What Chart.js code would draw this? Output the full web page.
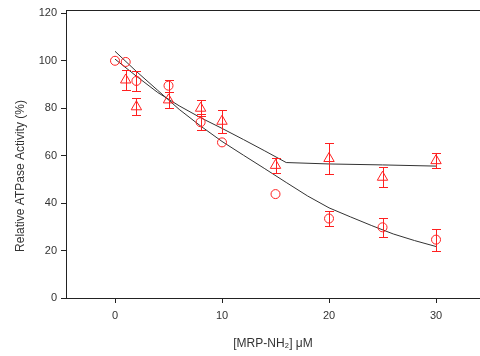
<!DOCTYPE html>
<html><head><meta charset="utf-8">
<script src="https://cdn.jsdelivr.net/npm/chart.js@4.4.0/dist/chart.umd.min.js"></script>
<style>html,body{margin:0;padding:0;background:#fff}#wrap{width:480px;height:356px}</style>
</head><body><div id="wrap"><canvas id="c" width="480" height="356"></canvas></div>
<script>
// Circle series (open circles)
const circleX = [0, 1, 2, 5, 8, 10, 15, 20, 25, 30];
const circleY = [100, 99.5, 91.5, 89.5, 74.1, 65.6, 43.8, 33.5, 29.8, 24.6];
const circleErr = [0, 0, 4.2, 2.5, 3.4, 0, 0, 3.2, 4, 4.6];
// Triangle series (open triangles)
const triX = [1, 2, 5, 8, 10, 15, 20, 25, 30];
const triY = [91.9, 80.6, 83.5, 80, 74.5, 55.9, 58.8, 50.9, 57.9];
const triErr = [4.2, 3.6, 3.5, 3.4, 4.9, 3, 6.6, 4.2, 3.3];
// Fitted curves
const circleFitX = [0, 2, 4, 6, 8, 10, 12, 14, 16, 18, 20, 22, 24, 26, 28, 30];
const circleFitY = [104, 95.5, 87.5, 79.5, 72.5, 66, 60.2, 54.5, 48.7, 43, 38, 34.2, 30.5, 27, 24.2, 21.7];
const triFitX = [0, 2, 4, 6, 8, 10, 12, 14, 16, 20, 25, 30];
const triFitY = [100.7, 93.5, 86.6, 81, 76, 71.5, 66.8, 62, 57.1, 56.5, 56.1, 55.6];
// Axis ticks
const xTicks = [0, 10, 20, 30];
const yTicks = [0, 20, 40, 60, 80, 100, 120];

const xyPairs = (xs, ys) => xs.map((x, i) => ({x: x, y: ys[i]}));
const FONT = 'Liberation Sans, Arial, sans-serif';
const RED = '#ff2020';
const AXIS = '#222';

const errorBars = {
  id: 'errorBars',
  afterDatasetsDraw(chart) {
    const ctx = chart.ctx, xs = chart.scales.x, ys = chart.scales.y;
    const sets = [[circleX, circleY, circleErr], [triX, triY, triErr]];
    ctx.save();
    ctx.strokeStyle = RED; ctx.lineWidth = 1;
    sets.forEach(([X, Y, E]) => {
      X.forEach((x, i) => {
        if (!E[i]) return;
        const px = Math.round(xs.getPixelForValue(x)) + 0.5;
        const top = Math.round(ys.getPixelForValue(Y[i] + E[i])) + 0.5;
        const bot = Math.round(ys.getPixelForValue(Y[i] - E[i])) + 0.5;
        ctx.beginPath();
        ctx.moveTo(px, top); ctx.lineTo(px, bot);
        ctx.moveTo(px - 4.5, top); ctx.lineTo(px + 4.5, top);
        ctx.moveTo(px - 4.5, bot); ctx.lineTo(px + 4.5, bot);
        ctx.stroke();
      });
    });
    ctx.restore();
  }
};

const frame = {
  id: 'frame',
  afterDraw(chart) {
    const ctx = chart.ctx, a = chart.chartArea;
    ctx.save();
    ctx.strokeStyle = AXIS; ctx.lineWidth = 1;
    ctx.beginPath();
    ctx.moveTo(a.left, Math.round(a.top) + 0.5);
    ctx.lineTo(a.right, Math.round(a.top) + 0.5);
    ctx.stroke();
    // y-axis title
    ctx.fillStyle = '#333';
    ctx.font = '12px ' + FONT;
    ctx.textAlign = 'center'; ctx.textBaseline = 'middle';
    ctx.translate(21, 176);
    ctx.rotate(-Math.PI / 2);
    ctx.fillText('Relative ATPase Activity (%)', 0, 0);
    ctx.restore();
  }
};

new Chart(document.getElementById('c'), {
  type: 'scatter',
  data: {
    datasets: [
      {type: 'line', data: xyPairs(circleFitX, circleFitY), borderColor: '#333', borderWidth: 1, pointRadius: 0, tension: 0, fill: false, order: 3},
      {type: 'line', data: xyPairs(triFitX, triFitY), borderColor: '#333', borderWidth: 1, pointRadius: 0, tension: 0, fill: false, order: 3},
      {data: xyPairs(circleX, circleY), pointStyle: 'circle', pointRadius: 4.5, borderColor: RED, backgroundColor: 'rgba(0,0,0,0)', borderWidth: 1, order: 1},
      {data: xyPairs(triX, triY), pointStyle: 'triangle', pointRadius: 6, borderColor: RED, backgroundColor: 'rgba(0,0,0,0)', borderWidth: 1, order: 1}
    ]
  },
  options: {
    responsive: false, animation: false, devicePixelRatio: 1,
    layout: {autoPadding: false, padding: {top: 10, right: 0, left: 0, bottom: 0}},
    plugins: {legend: {display: false}, tooltip: {enabled: false}},
    scales: {
      x: {
        type: 'linear', min: -4.58, max: 34.11,
        afterBuildTicks: s => { s.ticks = xTicks.map(v => ({value: v})); },
        afterFit: s => { s.height = 58; s.paddingLeft = 0; s.paddingRight = 0; },
        grid: {drawOnChartArea: false, drawTicks: true, tickLength: 5, color: AXIS},
        border: {color: AXIS, width: 1},
        ticks: {padding: 6, color: '#333', font: {family: FONT, size: 11}, maxRotation: 0},
        title: {display: true, text: '[MRP-NH\u2082] \u03bcM', color: '#333', font: {family: FONT, size: 12}, padding: {top: 0, bottom: 5}}
      },
      y: {
        type: 'linear', min: 0, max: 121.4,
        afterBuildTicks: s => { s.ticks = yTicks.map(v => ({value: v})); },
        afterFit: s => { s.width = 66; s.paddingTop = 0; s.paddingBottom = 0; },
        grid: {drawOnChartArea: false, drawTicks: true, tickLength: 5, color: AXIS},
        border: {color: AXIS, width: 1},
        ticks: {padding: 4, color: '#333', font: {family: FONT, size: 11}},
        title: {display: false}
      }
    }
  },
  plugins: [errorBars, frame]
});
</script>
</body></html>
